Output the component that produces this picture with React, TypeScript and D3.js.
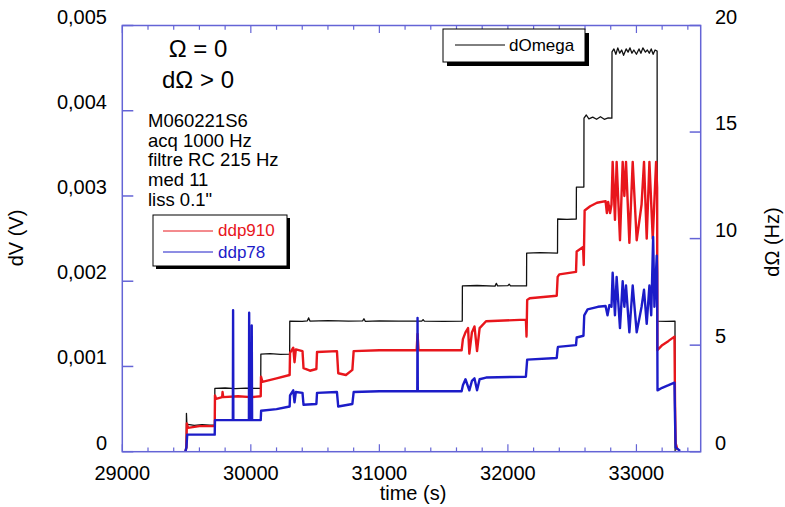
import React from "react";
import * as d3 from "d3";

const W = 785;
const H = 507;
const PLOT = { left: 122.3, right: 700.7, top: 25.5, bottom: 451.7 };

const xDomain = [29000, 33500];
const xMajorTicks = [29000, 30000, 31000, 32000, 33000];
const xMinorStep = 200;
const leftDomain = [0, 0.005];
const leftTicks = [0, 0.001, 0.002, 0.003, 0.004, 0.005];
const leftTickLabels = ["0", "0,001", "0,002", "0,003", "0,004", "0,005"];
const rightDomain = [0, 20];
const rightTicks = [0, 5, 10, 15, 20];

const annotTitle = ["Ω = 0", "dΩ > 0"];
const annotInfo = ["M060221S6", "acq 1000 Hz", "filtre RC 215 Hz", "med 11", "liss 0.1\""];

// [time (s), dOmega (Hz)]
const dOmegaData: [number, number][] = [
  [29490, 0], [29497, 0], [29499, 1.8], [29503, 1.2], [29510, 1.28], [29560, 1.24], [29620, 1.27], [29680, 1.25], [29719, 1.26],
  [29720, 2.97], [29800, 2.99], [29880, 2.96], [29960, 2.98], [30040, 2.97], [30077, 2.97],
  [30078, 4.58], [30150, 4.6], [30230, 4.57], [30302, 4.58],
  [30303, 6.13], [30400, 6.12], [30440, 6.14], [30450, 6.28], [30460, 6.13], [30600, 6.15], [30760, 6.13], [30870, 6.14], [30880, 6.24], [30890, 6.12], [31000, 6.14], [31150, 6.13], [31330, 6.13], [31340, 6.2], [31350, 6.13], [31500, 6.12], [31645, 6.13],
  [31646, 7.78], [31760, 7.8], [31900, 7.77], [31910, 7.9], [31920, 7.78], [32000, 7.79], [32010, 7.86], [32020, 7.78], [32145, 7.78],
  [32146, 9.32], [32250, 9.34], [32386, 9.32],
  [32387, 10.92], [32460, 10.9], [32532, 10.92],
  [32533, 12.42], [32591, 12.42],
  [32592, 15.65], [32610, 15.8], [32630, 15.62], [32660, 15.7], [32690, 15.6], [32720, 15.72], [32750, 15.6], [32780, 15.66], [32809, 15.65],
  [32810, 18.76], [32825, 18.9], [32840, 18.65], [32855, 18.95], [32870, 18.7], [32885, 18.85], [32900, 18.6], [32920, 18.9], [32935, 18.75],
  [32950, 18.95], [32965, 18.7], [32980, 18.85], [33000, 18.65], [33020, 18.9], [33035, 18.7], [33050, 18.95], [33070, 18.75], [33085, 18.85],
  [33100, 18.7], [33115, 18.9], [33130, 18.65], [33145, 18.85], [33161, 18.8],
  [33162, 6.13], [33230, 6.12], [33300, 6.13], [33301, 0], [33340, 0],
];

// [time (s), ddp910 (V)]
const ddp910Data: [number, number][] = [
  [29490, 0], [29499, 0.00005], [29502, 0.00033], [29510, 0.00028], [29600, 0.0003], [29719, 0.0003],
  [29721, 0.00066], [29730, 0.00062], [29777, 0.00064], [29780, 0.0007], [29785, 0.00064], [29900, 0.00065], [30000, 0.00064], [30077, 0.00065],
  [30079, 0.00088], [30090, 0.00082], [30200, 0.00086], [30302, 0.0009],
  [30305, 0.00116], [30330, 0.00122], [30340, 0.00105], [30350, 0.0012], [30402, 0.00118],
  [30410, 0.00098], [30460, 0.00095], [30510, 0.00097],
  [30515, 0.00117], [30670, 0.00118],
  [30680, 0.00092], [30740, 0.0009], [30790, 0.00096],
  [30800, 0.00118], [31000, 0.00119], [31290, 0.00119], [31297, 0.00138], [31305, 0.00119], [31640, 0.00119],
  [31650, 0.00132], [31670, 0.0014], [31690, 0.00145], [31700, 0.00115], [31720, 0.0014], [31740, 0.00147], [31760, 0.00118], [31780, 0.00145], [31830, 0.00153], [32140, 0.00155],
  [32145, 0.00135], [32150, 0.00178], [32170, 0.0018], [32380, 0.00183],
  [32387, 0.00205], [32400, 0.00208], [32530, 0.00211],
  [32535, 0.00235], [32585, 0.0024], [32590, 0.00219],
  [32597, 0.00283], [32640, 0.00288], [32693, 0.00292], [32760, 0.00294], [32770, 0.0028], [32780, 0.00293], [32795, 0.0028], [32806, 0.0029],
  [32815, 0.0034], [32833, 0.00272], [32846, 0.0034], [32872, 0.00248], [32893, 0.0034], [32906, 0.003], [32919, 0.0034],
  [32945, 0.00245], [32971, 0.0034], [33002, 0.00248], [33040, 0.0029], [33059, 0.0034], [33080, 0.0025], [33101, 0.0034],
  [33127, 0.0025], [33153, 0.0034], [33161, 0.0031],
  [33163, 0.00119], [33200, 0.00125], [33250, 0.0013], [33296, 0.00135],
  [33300, 0.0006], [33305, 0.0001], [33320, 0.00002],
];

// [time (s), ddp78 (V)]
const ddp78Data: [number, number][] = [
  [29490, 0], [29499, 0.00005], [29505, 0.0002], [29719, 0.0002],
  [29721, 0.00037], [29860, 0.00037], [29862, 0.00166], [29864, 0.00037],
  [29985, 0.00037], [29987, 0.00163], [29990, 0.00037], [30005, 0.00037], [30007, 0.00148], [30010, 0.00037], [30077, 0.00037],
  [30080, 0.00048], [30200, 0.0005], [30302, 0.00053],
  [30305, 0.00066], [30330, 0.00072], [30340, 0.00058], [30350, 0.0007], [30402, 0.00069],
  [30410, 0.00055], [30510, 0.00056],
  [30515, 0.00069], [30670, 0.0007],
  [30680, 0.00053], [30790, 0.00056],
  [30800, 0.0007], [31000, 0.00071], [31295, 0.00071], [31297, 0.00157], [31299, 0.00071], [31640, 0.00071],
  [31650, 0.00078], [31670, 0.00085], [31700, 0.00072], [31720, 0.00083], [31740, 0.00086], [31760, 0.00072], [31780, 0.00085], [31830, 0.00087], [32140, 0.00088],
  [32150, 0.00108], [32380, 0.0011],
  [32387, 0.00121], [32390, 0.00123], [32530, 0.00125],
  [32535, 0.00134], [32588, 0.00136],
  [32594, 0.0016], [32620, 0.00167], [32700, 0.0017], [32760, 0.00171], [32775, 0.0016], [32790, 0.00172], [32806, 0.0017],
  [32815, 0.0021], [32833, 0.0016], [32846, 0.00205], [32872, 0.00145], [32893, 0.002], [32906, 0.0017], [32919, 0.00195],
  [32945, 0.0014], [32971, 0.00195], [33002, 0.0014], [33040, 0.0017], [33059, 0.0019], [33080, 0.0015], [33101, 0.00195],
  [33115, 0.0016], [33130, 0.00252], [33140, 0.0017], [33158, 0.0023], [33161, 0.0021],
  [33164, 0.00072], [33200, 0.00075], [33250, 0.00078], [33296, 0.00081],
  [33300, 0.0004], [33305, 0.00005], [33340, 0.00001],
];

const FONT = "'Liberation Sans', Arial, Helvetica, sans-serif";
const FRAME = "#6464d6";
const RED = "#e8161c";
const BLUE = "#1c1cc8";

export default function App() {
  const x = d3.scaleLinear().domain(xDomain).range([PLOT.left, PLOT.right]);
  const yL = d3.scaleLinear().domain(leftDomain).range([PLOT.bottom, PLOT.top]);
  const yR = d3.scaleLinear().domain(rightDomain).range([PLOT.bottom, PLOT.top]);

  const lineL = d3.line<[number, number]>().x((d) => x(d[0])).y((d) => yL(d[1]));
  const lineR = d3.line<[number, number]>().x((d) => x(d[0])).y((d) => yR(d[1]));

  const minorTicks = d3.range(xDomain[0], xDomain[1] + 1, xMinorStep).filter((t) => !xMajorTicks.includes(t));

  return (
    <svg width={W} height={H} style={{ position: "absolute", left: 0, top: 0, background: "#fff" }} fontFamily={FONT}>
      <defs>
        <clipPath id="plotclip">
          <rect x={PLOT.left} y={PLOT.top} width={PLOT.right - PLOT.left} height={PLOT.bottom - PLOT.top} />
        </clipPath>
      </defs>
      <rect x={0} y={0} width={W} height={H} fill="#fff" />

      {/* series */}
      <g clipPath="url(#plotclip)" fill="none" strokeLinejoin="round">
        <path d={lineR(dOmegaData) || ""} stroke="#111" strokeWidth={1.3} />
        <path d={lineL(ddp910Data) || ""} stroke={RED} strokeWidth={2.4} />
        <path d={lineL(ddp78Data) || ""} stroke={BLUE} strokeWidth={2.4} />
      </g>

      {/* frame */}
      <rect x={PLOT.left} y={PLOT.top} width={PLOT.right - PLOT.left} height={PLOT.bottom - PLOT.top} fill="none" stroke={FRAME} strokeWidth={1.5} />

      {/* x ticks */}
      {xMajorTicks.map((t) => (
        <g key={"xm" + t} stroke={FRAME} strokeWidth={1.2}>
          <line x1={x(t)} x2={x(t)} y1={PLOT.bottom} y2={PLOT.bottom - 7.5} />
          <line x1={x(t)} x2={x(t)} y1={PLOT.top} y2={PLOT.top + 7.5} />
        </g>
      ))}
      {minorTicks.map((t) => (
        <g key={"xn" + t} stroke={FRAME} strokeWidth={1.2}>
          <line x1={x(t)} x2={x(t)} y1={PLOT.bottom} y2={PLOT.bottom - 4.3} />
          <line x1={x(t)} x2={x(t)} y1={PLOT.top} y2={PLOT.top + 4.3} />
        </g>
      ))}
      {xMajorTicks.map((t) => (
        <text key={"xl" + t} x={x(t)} y={480} fontSize={20} textAnchor="middle" fill="#000">
          {d3.format("d")(t)}
        </text>
      ))}

      {/* left axis */}
      {leftTicks.map((t, i) => (
        <g key={"yl" + t}>
          <line x1={PLOT.left} x2={PLOT.left + 11} y1={yL(t)} y2={yL(t)} stroke={FRAME} strokeWidth={1.5} />
          <text x={107} y={yL(t) - 2} fontSize={20} textAnchor="end" fill="#000">{leftTickLabels[i]}</text>
        </g>
      ))}

      {/* right axis */}
      {rightTicks.map((t) => (
        <g key={"yr" + t}>
          <line x1={PLOT.right} x2={PLOT.right - 11} y1={yR(t)} y2={yR(t)} stroke={FRAME} strokeWidth={1.5} />
          <text x={715} y={yR(t) - 2} fontSize={20} textAnchor="start" fill="#000">{t}</text>
        </g>
      ))}

      {/* axis titles */}
      <text x={413} y={500} fontSize={20} textAnchor="middle" fill="#000">time (s)</text>
      <text transform="translate(23,238) rotate(-90)" fontSize={20} textAnchor="middle" fill="#000">dV (V)</text>
      <text transform="translate(779,242) rotate(-90)" fontSize={20} textAnchor="middle" fill="#000">dΩ (Hz)</text>

      {/* annotations */}
      <text x={198} y={57} fontSize={24} textAnchor="middle" fill="#000">{annotTitle[0]}</text>
      <text x={198} y={88} fontSize={24} textAnchor="middle" fill="#000">{annotTitle[1]}</text>
      {annotInfo.map((s, i) => (
        <text key={s} x={148} y={126.7 + i * 19.8} fontSize={18.5} fill="#000">{s}</text>
      ))}

      {/* legend ddp */}
      <rect x={156} y={218} width={134} height={51} fill="#000" />
      <rect x={153} y={215} width={134} height={51} fill="#fff" stroke="#000" strokeWidth={1} />
      <line x1={163} x2={213} y1={231} y2={231} stroke={RED} strokeWidth={1} />
      <text x={218} y={236} fontSize={17} fill={RED}>ddp910</text>
      <line x1={163} x2={213} y1={252} y2={252} stroke={BLUE} strokeWidth={1} />
      <text x={218} y={258} fontSize={17} fill={BLUE}>ddp78</text>

      {/* legend dOmega */}
      <rect x={447} y={33} width={142} height={33} fill="#000" />
      <rect x={443} y={29} width={142} height={33} fill="#fff" stroke="#000" strokeWidth={1} />
      <line x1={455} x2={505} y1={45} y2={45} stroke="#000" strokeWidth={1} />
      <text x={509} y={51} fontSize={17} fill="#000">dOmega</text>
    </svg>
  );
}
